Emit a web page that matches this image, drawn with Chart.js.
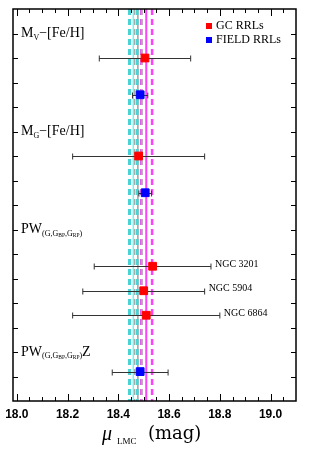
<!DOCTYPE html>
<html>
<head>
<meta charset="utf-8">
<script src="https://cdn.jsdelivr.net/npm/chart.js@4.4.0/dist/chart.umd.min.js"></script>
<style>
  html, body { margin: 0; padding: 0; background: #fff; }
  canvas { display: block; }
</style>
</head>
<body>
<canvas id="chart" width="309" height="456"></canvas>
<script>
// LMC distance moduli (mag); rows count down from the top
const gcMu = [18.505, 18.48, 18.535, 18.50, 18.51];
const gcErr = [0.18, 0.26, 0.23, 0.24, 0.29];
const gcRow = [2, 6, 10.5, 11.5, 12.5];
const gcNames = ['', '', 'NGC 3201', 'NGC 5904', 'NGC 6864'];

const fieldMu = [18.486, 18.506, 18.486];
const fieldErr = [0.03, 0.025, 0.11];
const fieldRow = [3.5, 7.5, 14.8];

const relationRows = [1, 5, 9, 14];

// reference values: low, mean, high
const cyanMu = [18.444, 18.459, 18.474];
const grayMu = [18.462, 18.477, 18.492];
const magentaMu = [18.49, 18.51, 18.533];

const xTicks = [18.0, 18.2, 18.4, 18.6, 18.8, 19.0];
const legendLabels = ['GC RRLs', 'FIELD RRLs'];

const SERIF = '"Liberation Serif", "DejaVu Serif", serif';

// label pieces: text, font size, baseline shift
const relationText = [
  [['M', 14, 0], ['V', 8, 4], ['\u2212[Fe/H]', 14, 0]],
  [['M', 14, 0], ['G', 8, 4], ['\u2212[Fe/H]', 14, 0]],
  [['PW', 14, 0], ['(G,G', 8, 4], ['BP', 5.5, 6], [',G', 8, 4], ['RP', 5.5, 6], [')', 8, 4]],
  [['PW', 14, 0], ['(G,G', 8, 4], ['BP', 5.5, 6], [',G', 8, 4], ['RP', 5.5, 6], [')', 8, 4], ['Z', 14, 0]]
];

function vline(x, color, width, dash) {
  return {
    type: 'line',
    data: [{ x: x, y: 0 }, { x: x, y: 16 }],
    borderColor: color,
    borderWidth: width,
    borderDash: dash,
    pointRadius: 0,
    order: 2
  };
}

const datasets = [
  {
    label: legendLabels[0],
    data: gcMu.map((v, i) => ({ x: v, y: gcRow[i] })),
    err: gcErr,
    backgroundColor: '#ff0000',
    borderColor: '#ff0000',
    pointStyle: 'rect',
    pointRadius: 5.5,
    order: 0
  },
  {
    label: legendLabels[1],
    data: fieldMu.map((v, i) => ({ x: v, y: fieldRow[i] })),
    err: fieldErr,
    backgroundColor: '#0000ff',
    borderColor: '#0000ff',
    pointStyle: 'rect',
    pointRadius: 5.5,
    order: 0
  },
  vline(cyanMu[0], '#48d4d4', 3, [6, 4]),
  vline(cyanMu[2], '#48d4d4', 3, [6, 4]),
  vline(cyanMu[1], '#70f4f4', 1.5, []),
  vline(grayMu[0], '#a8a8a8', 2, [6, 4]),
  vline(grayMu[2], '#a8a8a8', 2, [6, 4]),
  vline(grayMu[1], '#a0a0a0', 1.5, []),
  vline(magentaMu[0], '#ff40ff', 2.5, [6, 4]),
  vline(magentaMu[2], '#ff40ff', 2.5, [6, 4]),
  vline(magentaMu[1], '#ff40ff', 2, [])
];

const errorBars = {
  id: 'errorBars',
  beforeDatasetDraw(chart, args) {
    const ds = chart.data.datasets[args.index];
    if (!ds.err) return;
    const { ctx, scales: { x, y } } = chart;
    ctx.save();
    ctx.strokeStyle = '#333';
    ctx.lineWidth = 1;
    ds.data.forEach((p, i) => {
      const py = Math.round(y.getPixelForValue(p.y)) + 0.5;
      const x0 = x.getPixelForValue(p.x - ds.err[i]);
      const x1 = x.getPixelForValue(p.x + ds.err[i]);
      ctx.beginPath();
      ctx.moveTo(x0, py); ctx.lineTo(x1, py);
      ctx.moveTo(x0, py - 3); ctx.lineTo(x0, py + 3);
      ctx.moveTo(x1, py - 3); ctx.lineTo(x1, py + 3);
      ctx.stroke();
    });
    ctx.restore();
  }
};

function drawPieces(ctx, pieces, x, y) {
  pieces.forEach(([t, s, dy]) => {
    ctx.font = s + 'px ' + SERIF;
    ctx.fillText(t, x, y + dy);
    x += ctx.measureText(t).width;
  });
  return x;
}

const decorations = {
  id: 'decorations',
  afterDraw(chart) {
    const { ctx, chartArea: a, scales: { x, y } } = chart;
    ctx.save();
    ctx.strokeStyle = '#000';
    ctx.fillStyle = '#000';

    // ticks pointing inwards
    ctx.lineWidth = 1;
    ctx.beginPath();
    for (let v = 18.0; v <= 19.1; v += 0.05) {
      const px = Math.round(x.getPixelForValue(v)) + 0.5;
      const major = Math.abs(v * 5 - Math.round(v * 5)) < 1e-6;
      const len = major ? 7 : 4;
      ctx.moveTo(px, a.bottom); ctx.lineTo(px, a.bottom - len);
      ctx.moveTo(px, a.top); ctx.lineTo(px, a.top + len);
    }
    for (let r = 1; r < 16; r++) {
      const py = Math.round(y.getPixelForValue(r)) + 0.5;
      ctx.moveTo(a.left, py); ctx.lineTo(a.left + 5, py);
      ctx.moveTo(a.right, py); ctx.lineTo(a.right - 5, py);
    }
    ctx.stroke();

    // frame
    ctx.lineWidth = 1.5;
    ctx.strokeRect(a.left, a.top, a.right - a.left, a.bottom - a.top);

    // x tick labels
    ctx.font = 'bold 12px "Liberation Sans", Arial, sans-serif';
    ctx.textAlign = 'center';
    ctx.textBaseline = 'middle';
    xTicks.forEach(v => {
      ctx.fillText(v.toFixed(1), x.getPixelForValue(v), a.bottom + 14);
    });

    // axis title
    ctx.textAlign = 'left';
    ctx.textBaseline = 'alphabetic';
    ctx.font = 'italic 20px ' + SERIF;
    ctx.fillText('\u03bc', 102, 440);
    ctx.font = '9px ' + SERIF;
    ctx.fillText('LMC', 117, 444);
    ctx.font = '18px "DejaVu Serif", serif';
    ctx.fillText('(mag)', 148, 439);

    // relation labels
    ctx.textBaseline = 'middle';
    relationRows.forEach((r, i) => {
      drawPieces(ctx, relationText[i], 21, y.getPixelForValue(r));
    });

    // cluster names
    ctx.font = '10px ' + SERIF;
    gcNames.forEach((n, i) => {
      if (!n) return;
      const px = x.getPixelForValue(gcMu[i] + gcErr[i]) + 4;
      ctx.fillText(n, px, y.getPixelForValue(gcRow[i]) - 2);
    });

    // legend
    ctx.font = '12px ' + SERIF;
    legendLabels.forEach((t, i) => {
      const ly = a.top + 17 + i * 14;
      ctx.fillStyle = chart.data.datasets[i].backgroundColor;
      ctx.fillRect(206, ly - 3, 6, 6);
      ctx.fillStyle = '#000';
      ctx.fillText(t, 216, ly);
    });
    ctx.restore();
  }
};

new Chart(document.getElementById('chart'), {
  type: 'scatter',
  data: { datasets: datasets },
  options: {
    responsive: false,
    animation: false,
    layout: { padding: { left: 13, right: 13, top: 9, bottom: 55 } },
    scales: {
      x: { type: 'linear', min: 17.985, max: 19.1, display: false },
      y: { type: 'linear', min: 0, max: 16, reverse: true, display: false }
    },
    plugins: {
      legend: { display: false },
      tooltip: { enabled: false }
    }
  },
  plugins: [errorBars, decorations]
});
</script>
</body>
</html>
